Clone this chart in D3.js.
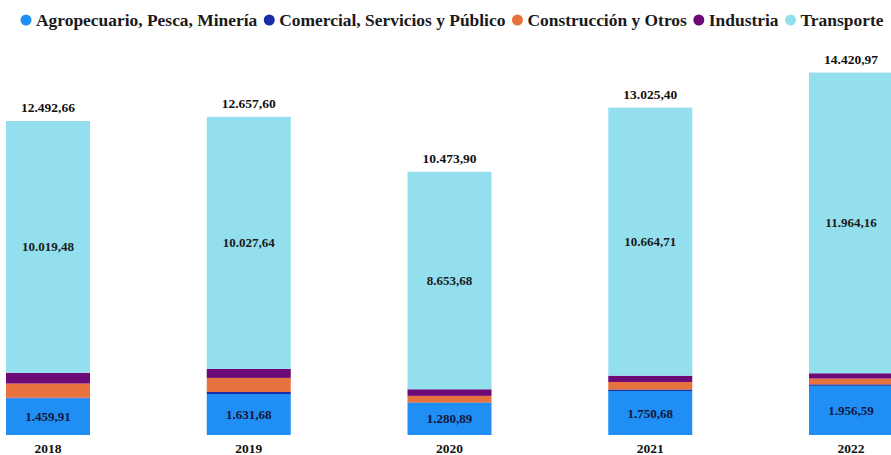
<!DOCTYPE html>
<html>
<head>
<meta charset="utf-8">
<script src="https://cdn.jsdelivr.net/npm/d3@7"></script>
<style>
  html, body { margin: 0; padding: 0; background: #fff; }
  svg { display: block; }
</style>
</head>
<body>
<svg id="chart" width="891" height="455"></svg>
<script>
// Consumo por sector, 2018–2022
const years = ["2018", "2019", "2020", "2021", "2022"];
const seriesNames = ["Agropecuario, Pesca, Minería", "Comercial, Servicios y Público", "Construcción y Otros", "Industria", "Transporte"];
const seriesColors = ["#1f8ff5", "#1b2ca6", "#e8723e", "#6c0a78", "#93dfee"];

const agropecuario = [1459.91, 1631.68, 1280.89, 1750.68, 1956.59];
const comercial    = [28.00, 80.00, 15.00, 60.00, 60.00];
const construccion = [560.00, 560.00, 262.00, 300.00, 230.00];
const industria    = [425.27, 358.28, 262.33, 250.01, 210.22];
const transporte   = [10019.48, 10027.64, 8653.68, 10664.71, 11964.16];
const totals       = [12492.66, 12657.60, 10473.90, 13025.40, 14420.97];

const seriesValues = [agropecuario, comercial, construccion, industria, transporte];

const FONT = "Liberation Serif";

const svg = d3.select("#chart");

const locale = d3.formatLocale({ decimal: ",", thousands: ".", grouping: [3], currency: ["", ""] });
const fmt = locale.format(",.2f");

const x = d3.scaleBand().domain(years).range([6, 893]).paddingInner(0.5816).paddingOuter(0);
const y = d3.scaleLinear().domain([0, 15000]).range([435, 58]);

const table = years.map((yr, i) => {
  const row = { year: yr };
  seriesNames.forEach((s, k) => row[s] = seriesValues[k][i]);
  return row;
});
const stacked = d3.stack().keys(seriesNames)(table);

function styleText(sel, size) {
  return sel.attr("font-family", FONT).attr("font-weight", "bold").attr("font-size", size);
}

// stacked bars
const g = svg.append("g");
stacked.forEach((layer, k) => {
  g.selectAll(null).data(layer).enter().append("rect")
    .attr("x", d => x(d.data.year))
    .attr("width", x.bandwidth())
    .attr("y", d => y(d[1]))
    .attr("height", d => y(d[0]) - y(d[1]))
    .attr("fill", seriesColors[k]);
});

// value labels inside the first and last segments
[0, 4].forEach(k => {
  styleText(g.selectAll(null).data(stacked[k]).enter().append("text"), 13)
    .attr("x", d => x(d.data.year) + x.bandwidth() / 2)
    .attr("y", d => (y(d[0]) + y(d[1])) / 2)
    .attr("dy", "0.35em")
    .attr("text-anchor", "middle")
    .attr("fill", k === 0 ? "#14163a" : "#1a1a1a")
    .text((d, i) => fmt(seriesValues[k][i]));
});

// totals above bars
styleText(g.selectAll(null).data(years).enter().append("text"), 13.5)
  .attr("x", d => x(d) + x.bandwidth() / 2)
  .attr("y", (d, i) => y(totals[i]) - 9)
  .attr("text-anchor", "middle")
  .attr("fill", "#111")
  .text((d, i) => fmt(totals[i]));

// category axis
const axis = svg.append("g")
  .attr("transform", `translate(0,435)`)
  .call(d3.axisBottom(x).tickSize(0).tickPadding(0));
axis.select(".domain").remove();
axis.attr("font-family", FONT).attr("font-size", 13.5);
styleText(axis.selectAll("text"), 13.5)
  .attr("y", 17.5)
  .attr("dy", null)
  .attr("fill", "#111");

// legend, sized to span the top row
const legend = svg.append("g").attr("transform", "translate(0,20)");
const items = seriesNames.map((s, k) => {
  return styleText(legend.append("text"), 15)
    .attr("y", 0).attr("dy", "0.33em")
    .attr("fill", "#1a1a1a").text(s);
});
const raw = d3.sum(items, t => t.node().getComputedTextLength());
const avail = (884 - 26) - 5 * 10 - 4 * 12;
const fs = 15 * avail / raw;
let cx = 26;
items.forEach((t, k) => {
  t.attr("font-size", fs);
  legend.append("circle").attr("cx", cx).attr("cy", 0).attr("r", 5.5).attr("fill", seriesColors[k]);
  t.attr("x", cx + 10);
  cx = cx + 10 + t.node().getComputedTextLength() + 12;
});
</script>
</body>
</html>
